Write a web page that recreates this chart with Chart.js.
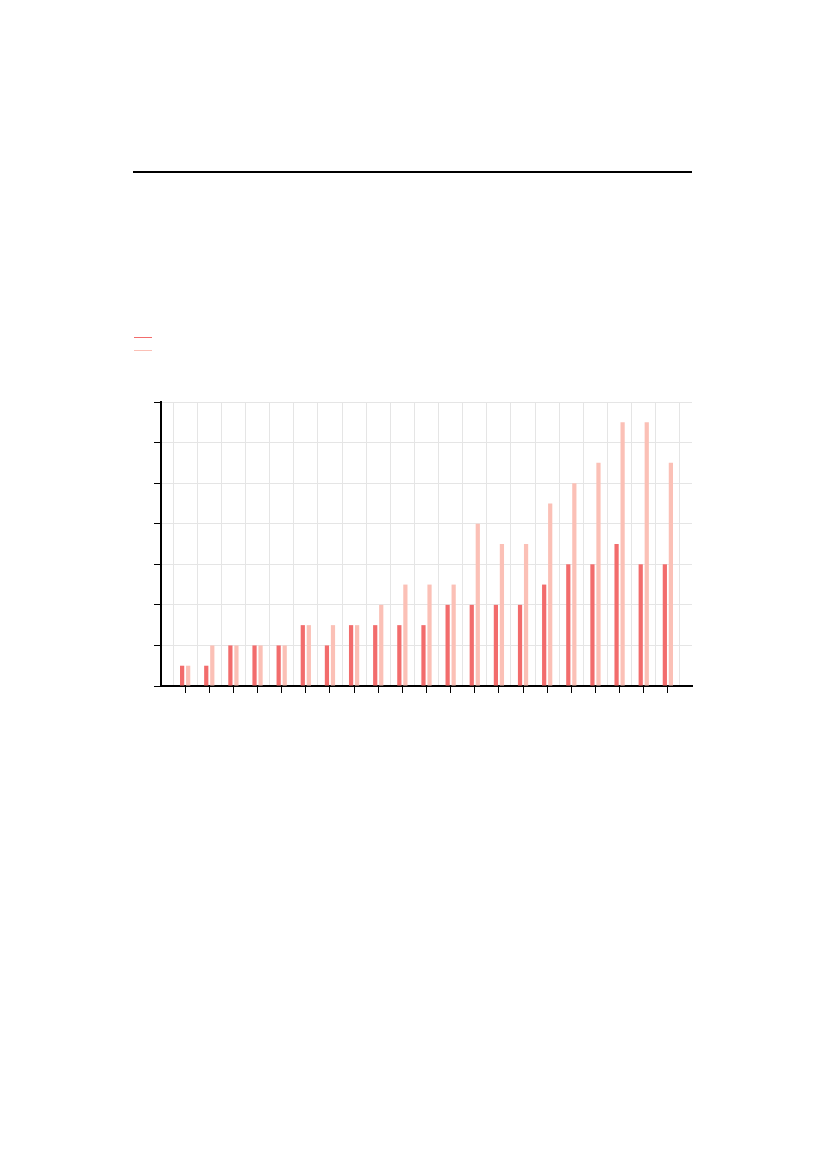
<!DOCTYPE html>
<html>
<head>
<meta charset="utf-8">
<script src="https://cdn.jsdelivr.net/npm/chart.js@4"></script>
<style>
  html, body { margin: 0; padding: 0; background: #ffffff; }
  body { width: 827px; height: 1169px; position: relative; overflow: hidden; font-family: "DejaVu Sans", sans-serif; }
  #rule { position: absolute; left: 133px; top: 171px; width: 559px; height: 2px; background: #000; }
  .leg { position: absolute; left: 134px; width: 18px; height: 1px; }
  #wrap { position: absolute; left: 0; top: 0; width: 827px; height: 1169px; }
</style>
</head>
<body>
<div id="rule"></div>
<div class="leg" id="leg0" style="top:337px;"></div>
<div class="leg" id="leg1" style="top:350px;"></div>
<div id="wrap"><canvas id="c" width="827" height="1169"></canvas></div>
<script>
// ---- data ----
const categories = ['1','2','3','4','5','6','7','8','9','10','11','12','13','14','15','16','17','18','19','20','21'];
const seriesA = [0.5, 0.5, 1, 1, 1, 1.5, 1, 1.5, 1.5, 1.5, 1.5, 2, 2, 2, 2, 2.5, 3, 3, 3.5, 3, 3];
const seriesB = [0.5, 1, 1, 1, 1, 1.5, 1.5, 1.5, 2, 2.5, 2.5, 2.5, 4, 3.5, 3.5, 4.5, 5, 5.5, 6.5, 6.5, 5.5];
const yTicks = [0, 1, 2, 3, 4, 5, 6, 7];

const colorA = '#f26c6c';
const colorB = '#fbc0b6';
document.getElementById('leg0').style.background = colorA;
document.getElementById('leg1').style.background = colorB;

const toPoints = arr => arr.map((v, i) => ({ x: i + 1, y: v }));
const nCat = categories.length;

new Chart(document.getElementById('c'), {
  type: 'bar',
  data: {
    datasets: [
      { label: '', data: toPoints(seriesA), backgroundColor: colorA, borderWidth: 0,
        categoryPercentage: 0.5, barPercentage: 0.7, xAxisID: 'x' },
      { label: '', data: toPoints(seriesB), backgroundColor: colorB, borderWidth: 0,
        categoryPercentage: 0.5, barPercentage: 0.7, xAxisID: 'x' }
    ]
  },
  options: {
    responsive: false,
    animation: false,
    devicePixelRatio: 1,
    plugins: { legend: { display: false }, tooltip: { enabled: false }, title: { display: false } },
    layout: { padding: { left: 154, right: 135, top: 402, bottom: 476 } },
    scales: {
      x: {
        type: 'linear', position: 'bottom', min: 0, max: nCat + 1, offset: false,
        afterBuildTicks: (axis) => { axis.ticks = categories.map((c, i) => ({ value: i + 1 })); },
        afterFit: (s) => { s.height = 7; },
        grid: { offset: false, drawOnChartArea: false, drawTicks: true, tickLength: 7, tickColor: '#000', tickWidth: 1 },
        border: { display: true, color: '#000', width: 2 },
        ticks: { display: false }
      },
      xg: {
        type: 'linear', position: 'bottom', min: 0, max: nCat + 1, offset: false,
        afterBuildTicks: (axis) => {
          const t = [];
          for (let i = 0; i <= nCat; i++) t.push({ value: i + 0.5 });
          axis.ticks = t;
        },
        afterFit: (s) => { s.height = 0; },
        grid: { offset: false, drawOnChartArea: true, drawTicks: false, color: '#e5e5e5', lineWidth: 1 },
        border: { display: false },
        ticks: { display: false }
      },
      y: {
        type: 'linear', min: yTicks[0], max: yTicks[yTicks.length - 1],
        afterBuildTicks: (axis) => { axis.ticks = yTicks.map(v => ({ value: v })); },
        afterFit: (s) => { s.width = 7; },
        grid: { color: '#e5e5e5', lineWidth: 1, drawTicks: true, tickLength: 7, tickColor: '#000', tickWidth: 1 },
        border: { display: true, color: '#000', width: 2 },
        ticks: { display: false }
      }
    }
  }
});
</script>
</body>
</html>
